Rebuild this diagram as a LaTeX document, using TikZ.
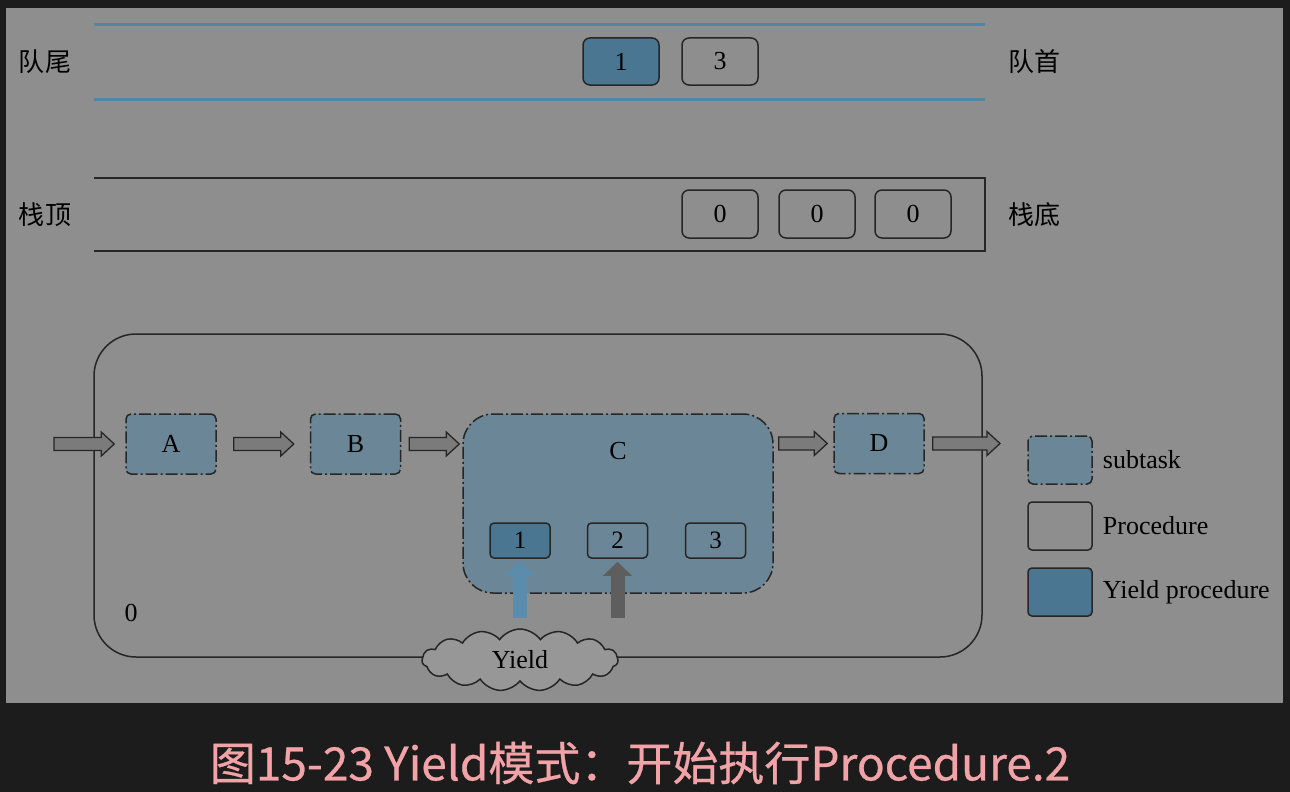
\documentclass[tikz,border=0pt]{standalone}
\usepackage{fontspec}
\setmainfont{Liberation Serif}
\newfontfamily\cjk{Noto Sans CJK SC}
\newfontfamily\capfont[FakeBold=0.6]{Noto Sans CJK SC}
\usetikzlibrary{shapes.symbols,arrows.meta,calc}

\definecolor{bgdark}{HTML}{1C1C1C}
\definecolor{panel}{HTML}{8E8E8E}
\definecolor{qline}{HTML}{4D87A4}
\definecolor{yieldfill}{HTML}{4B7691}
\definecolor{taskfill}{HTML}{6B8797}
\definecolor{flowfill}{HTML}{7B7B7B}
\definecolor{inkline}{HTML}{262626}
\definecolor{pinkcap}{HTML}{F2A3A7}
\definecolor{grayup}{HTML}{5E5E5E}
\definecolor{blueup}{HTML}{5A8CAB}

% block arrow between two points on one horizontal
\newcommand{\flowarrow}[2]{%
\draw[flow] let \p1=(#1), \p2=(#2) in
  (\x1,\y1+6.5pt) -- (\x2-13pt,\y1+6.5pt) -- (\x2-13pt,\y1+12pt) -- (\x2,\y1)
  -- (\x2-13pt,\y1-12pt) -- (\x2-13pt,\y1-6.5pt) -- (\x1,\y1-6.5pt) -- cycle;}

\begin{document}
\begin{tikzpicture}[x=1pt, y=-1pt,
  txt/.style={font=\fontsize{26}{30}\selectfont, inner sep=0pt},
  cjktxt/.style={font=\cjk\fontsize{26}{30}\selectfont, inner sep=0pt},
  proc/.style={draw=inkline, line width=1.5pt, rounded corners=7pt, minimum width=76pt, minimum height=47pt, txt},
  yproc/.style={proc, fill=yieldfill},
  task/.style={draw=inkline, line width=1.5pt, fill=taskfill, rounded corners=5pt,
    dash pattern=on 12pt off 3pt on 2pt off 3pt, minimum width=90pt, minimum height=60pt, txt},
  small/.style={draw=inkline, line width=1.5pt, rounded corners=4pt, minimum width=60pt, minimum height=35pt,
    font=\fontsize{25}{29}\selectfont, inner sep=0pt},
  flow/.style={draw=inkline, line width=1.3pt, fill=flowfill, line join=miter},
  upblock/.style={line width=14pt, -{Triangle[width=28pt,length=14pt]}, shorten >=3pt}
]
\useasboundingbox (0,0) rectangle (1290,792);
\fill[bgdark] (0,0) rectangle (1290,792);
\fill[panel] (6,8) rectangle (1283,703);

% queue
\draw[qline, line width=3pt] (94,25) -- (985,25);
\draw[qline, line width=3pt] (94,99) -- (985,99);
\node[cjktxt] (qtail) at (45,62) {队尾};
\node[cjktxt] (qhead) at (1034,62) {队首};
\node[yproc] (q1) at (621,61.5) {1};
\node[proc] (q3) at (720,61.5) {3};

% stack
\draw[inkline, line width=2pt] (94,178) -- (985,178) -- (985,251) -- (94,251);
\node[cjktxt] (stop) at (45,215) {栈顶};
\node[cjktxt] (sbottom) at (1034,215) {栈底};
\foreach \x/\n in {720/s1, 817/s2, 913/s3}
  \node[proc, minimum height=48pt] (\n) at (\x,214) {0};

% task
\draw[inkline, line width=1.5pt, rounded corners=42pt] (94,334) rectangle (982,657);
\node[txt] (zero) at (131,613) {0};

\node[task] (A) at (171,444) {A};
\node[task] (B) at (355.5,444) {B};
\node[task, minimum width=310pt, minimum height=179pt, rounded corners=30pt] (C) at (618,503.5) {};
\node[txt] (Clab) at ([yshift=-38pt]C.north) {C};
\node[task] (D) at (879,443.5) {D};

\node[small, fill=yieldfill] (p1) at (520,540.5) {1};
\node[small] (p2) at (617.5,540.5) {2};
\node[small] (p3) at (715.5,540.5) {3};

\coordinate (in) at (54,444);
\coordinate (out) at (1000,443.5);
\flowarrow{in}{$(A.west)+(-11,0)$}
\flowarrow{$(A.east)+(17,0)$}{$(B.west)+(-16,0)$}
\flowarrow{$(B.east)+(8,0)$}{$(C.west |- B)+(-3,0)$}
\flowarrow{$(C.east |- D)+(5,0)$}{$(D.west)+(-6,0)$}
\flowarrow{$(D.east)+(8,0)$}{out}

\node[cloud, draw=inkline, line width=1.5pt, fill=panel!92!white, cloud puffs=15, cloud puff arc=110, aspect=3,
  minimum width=196pt, minimum height=62pt, txt] (yield) at (520,660) {Yield};
\draw[upblock, blueup] ([yshift=10pt]yield.north -| p1.south) -- (p1.south);
\draw[upblock, grayup] ([yshift=10pt]yield.north -| p2.south) -- (p2.south);

% legend
\node[task, minimum width=64pt, minimum height=48pt] (lgtask) at (1060,460) {};
\node[proc, minimum width=64pt, minimum height=48pt, rounded corners=4pt] (lgproc) at (1060,526) {};
\node[yproc, minimum width=64pt, minimum height=48pt, rounded corners=4pt] (lgyield) at (1060,592) {};
\node[txt, anchor=west] at ([xshift=10pt]lgtask.east) {subtask};
\node[txt, anchor=west] at ([xshift=10pt]lgproc.east) {Procedure};
\node[txt, anchor=west] at ([xshift=10pt]lgyield.east) {Yield procedure};

% caption
\node[font=\capfont\fontsize{46}{52}\selectfont, text=pinkcap, inner sep=0pt] (caption) at (640,763)
  {图15-23 Yield模式：开始执行Procedure.2};
\end{tikzpicture}
\end{document}
